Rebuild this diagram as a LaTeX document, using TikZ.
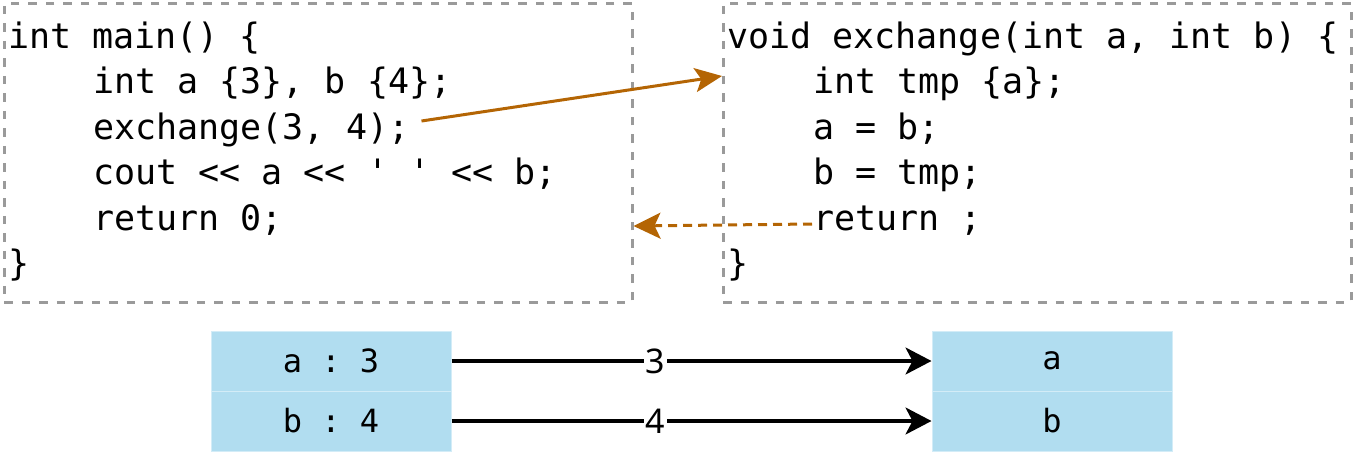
\documentclass[tikz,border=0pt]{standalone}
\usepackage{fontspec}
\setmonofont{DejaVu Sans Mono}
\newfontfamily\labelfont{Noto Sans}
\usetikzlibrary{arrows.meta}
\definecolor{orangeline}{HTML}{B46504}
\definecolor{cellblue}{HTML}{B1DDF0}
\definecolor{cellborder}{HTML}{D3ECF7}
\definecolor{boxgray}{HTML}{9A9A9A}
\begin{document}
\begin{tikzpicture}[x=1pt,y=-1pt,
  codeline/.style={anchor=base west, inner sep=0pt, font=\fontsize{35}{40}\selectfont\ttfamily},
  codebox/.style={draw=boxgray, line width=2.5pt, dash pattern=on 8.5pt off 9pt, anchor=north west, inner sep=0pt, minimum width=628pt, minimum height=299pt},
  cell/.style={fill=cellblue, draw=cellborder, line width=1pt, minimum width=240pt, minimum height=60pt, inner sep=0pt, font=\fontsize{32}{36}\selectfont\ttfamily},
  call/.style={draw=orangeline, line width=3pt, -{Stealth[length=27pt,width=24pt,inset=6pt]}},
  ret/.style={draw=orangeline, line width=3pt, dash pattern=on 9pt off 6pt, -{Stealth[length=27pt,width=26pt,inset=6pt]}},
  val/.style={draw=black, line width=3.3pt, -{Stealth[length=26pt,width=27pt,inset=7pt]}},
  lbl/.style={fill=white, inner sep=2pt, font=\labelfont\fontsize{34}{38}\selectfont}
]
\useasboundingbox (0,0) rectangle (1353,453);

% dashed code boxes
\node[codebox] (mainbox) at (3,2) {};
\node[codebox] (exbox) at (722,2) {};

% main()
\node[codeline] (m1) at (8,48) {int main() \{};
\node[codeline] (m2) at (93,93.5) {int a \{3\}, b \{4\};};
\node[codeline] (m3) at (93,139) {exchange(3, 4);};
\node[codeline] (m4) at (93,184.5) {cout << a << \textquotesingle\ \textquotesingle\ << b;};
\node[codeline] (m5) at (93,230) {return 0;};
\node[codeline] (m6) at (8,275.5) {\}};

% exchange()
\node[codeline] (e1) at (727,48) {void exchange(int a, int b) \{};
\node[codeline] (e2) at (813,93.5) {int tmp \{a\};};
\node[codeline] (e3) at (813,139) {a = b;};
\node[codeline] (e4) at (813,184.5) {b = tmp;};
\node[codeline] (e5) at (813,230) {return ;};
\node[codeline] (e6) at (727,275.5) {\}};

% call and return arrows
\coordinate (callstart) at ([xshift=12pt,yshift=18pt]m3.base east);
\draw[call] (callstart) -- ([yshift=-74pt]exbox.north west);
\coordinate (retstart) at ([xshift=-1pt,yshift=6pt]e5.base west);
\draw[ret] (retstart) -- ([yshift=-224pt]mainbox.north east);

% value cells
\node[cell] (ca) at (331,361) {a : 3};
\node[cell] (cb) at (331,421) {b : 4};
\node[cell] (ra) at (1052,361) {a};
\node[cell] (rb) at (1052,421) {b};

\draw[val] (ca.east) -- node[lbl, pos=0.425] {3} (ra.west);
\draw[val] (cb.east) -- node[lbl, pos=0.425] {4} (rb.west);
\end{tikzpicture}
\end{document}
